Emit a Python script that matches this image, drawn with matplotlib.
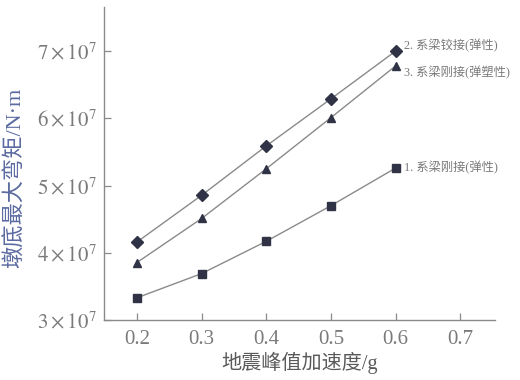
import matplotlib
matplotlib.use("Agg")
import matplotlib.pyplot as plt
from matplotlib.ticker import FuncFormatter

plt.rcParams['font.family'] = ['Liberation Serif', 'Noto Sans CJK SC', 'DejaVu Sans']
plt.rcParams['mathtext.fontset'] = 'stix'

pga = [0.2, 0.3, 0.4, 0.5, 0.6]
hinged_elastic = [4.16e7, 4.855e7, 5.59e7, 6.29e7, 7.0e7]
rigid_elastoplastic = [3.855e7, 4.51e7, 5.25e7, 6.01e7, 6.78e7]
rigid_elastic = [3.33e7, 3.69e7, 4.17e7, 4.70e7, 5.26e7]
series_labels = ["2. 系梁铰接(弹性)", "3. 系梁刚接(弹塑性)", "1. 系梁刚接(弹性)"]
x_ticks = [0.2, 0.3, 0.4, 0.5, 0.6, 0.7]
y_ticks = [3e7, 4e7, 5e7, 6e7, 7e7]
x_label = "地震峰值加速度/g"
y_label = "墩底最大弯矩/N·m"

line_c = '#8a8a8a'
mark_c = '#2f3345'
text_c = '#7a7a7a'
mixed = ['Liberation Serif', 'Noto Sans CJK SC', 'DejaVu Sans']

fig = plt.figure(figsize=(5.2, 3.8), dpi=100)
ax = fig.add_axes([0.2, 0.158, 0.752, 0.824])

series = [hinged_elastic, rigid_elastoplastic, rigid_elastic]
markers = ['D', '^', 's']
msizes = [6, 6, 5.5]
label_offsets = [(6, 4), (6, -5), (6, 0)]
for vals, m, ms, lab, off in zip(series, markers, msizes, series_labels, label_offsets):
    ax.plot(pga, vals, color=line_c, lw=1.0, marker=m, ms=ms,
            mfc=mark_c, mec=mark_c, zorder=3)
    ax.annotate(lab, xy=(pga[-1], vals[-1]), xytext=off, textcoords='offset points',
                ha='left', va='center', fontsize=8.8, color=text_c, family=mixed)

ax.set_xlim(0.149, 0.754)
ax.set_ylim(3e7, 7.66e7)
ax.set_xticks(x_ticks)
ax.set_xticklabels([f"{v:.1f}" for v in x_ticks])
ax.set_yticks(y_ticks)
ax.yaxis.set_major_formatter(FuncFormatter(lambda v, p: r"$%d \times 10^{7}$" % round(v / 1e7)))

for s in ['top', 'right']:
    ax.spines[s].set_visible(False)
for s in ['left', 'bottom']:
    ax.spines[s].set_color('#8a8a8a')
    ax.spines[s].set_linewidth(1.0)

ax.tick_params(direction='in', length=5, width=0.9, color='#8a8a8a',
               labelcolor=text_c, labelsize=15)
ax.tick_params(axis='x', pad=7)
ax.tick_params(axis='y', pad=5)

ax.set_xlabel(x_label, fontsize=14.5, color='#5a5a5a', family=mixed)
ax.set_ylabel(y_label, fontsize=16, color='#5b6aa0', family=mixed)
ax.yaxis.set_label_coords(-0.2, 0.455)
ax.xaxis.set_label_coords(0.5, -0.1)

fig.savefig("out.png", dpi=100)
